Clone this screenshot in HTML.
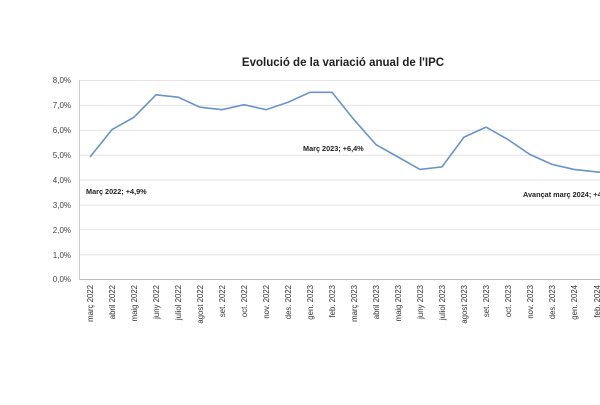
<!DOCTYPE html>
<html><head><meta charset="utf-8"><style>body{margin:0;background:#fff}</style></head><body>
<svg width="600" height="400" xmlns="http://www.w3.org/2000/svg" font-family="Liberation Sans, sans-serif">
<text x="343" y="66" text-anchor="middle" font-size="11.5" font-weight="bold" fill="#222">Evolució de la variació anual de l'IPC</text>
<g stroke="#e4e4e4" stroke-width="1">
<line x1="79" x2="600" y1="80.5" y2="80.5"/><line x1="79" x2="600" y1="105.4" y2="105.4"/><line x1="79" x2="600" y1="130.3" y2="130.3"/><line x1="79" x2="600" y1="155.2" y2="155.2"/><line x1="79" x2="600" y1="180.1" y2="180.1"/><line x1="79" x2="600" y1="205" y2="205"/><line x1="79" x2="600" y1="229.9" y2="229.9"/><line x1="79" x2="600" y1="254.8" y2="254.8"/>
</g>
<line x1="79" x2="600" y1="279.5" y2="279.5" stroke="#bbb"/>
<line x1="79.5" x2="79.5" y1="80" y2="280" stroke="#ccc"/>
<g font-size="8" fill="#444" text-anchor="end">
<text x="71" y="83">8,0%</text><text x="71" y="108">7,0%</text><text x="71" y="133">6,0%</text><text x="71" y="158">5,0%</text><text x="71" y="183">4,0%</text><text x="71" y="208">3,0%</text><text x="71" y="233">2,0%</text><text x="71" y="258">1,0%</text><text x="71" y="282">0,0%</text>
</g>
<polyline fill="none" stroke="#6a93c8" stroke-width="1.6" points="90,157 112,129.6 134,117.2 156,94.8 178,97.2 200,107.2 222,109.7 244,104.7 266,109.7 288,102.2 310,92.3 332,92.3 354,119.7 376,144.6 398,157 420,169.4 442,166.9 464,137.1 486,127.1 508,139.5 530,154.5 552,164.4 574,169.4 597,171.9 619,174.4"/>
<g font-size="7.3" font-weight="bold" fill="#222">
<text x="86" y="194">Març 2022; +4,9%</text>
<text x="303" y="151">Març 2023;  +6,4%</text>
<text x="523" y="197">Avançat març 2024; +4,2%</text>
</g>
<g font-size="7.8" fill="#333" text-anchor="end">
<text transform="translate(93,285) rotate(-90)">març 2022</text>
<text transform="translate(115,285) rotate(-90)">abril 2022</text>
<text transform="translate(137,285) rotate(-90)">maig 2022</text>
<text transform="translate(159,285) rotate(-90)">juny 2022</text>
<text transform="translate(181,285) rotate(-90)">juliol 2022</text>
<text transform="translate(203,285) rotate(-90)">agost 2022</text>
<text transform="translate(225,285) rotate(-90)">set. 2022</text>
<text transform="translate(247,285) rotate(-90)">oct. 2022</text>
<text transform="translate(269,285) rotate(-90)">nov. 2022</text>
<text transform="translate(291,285) rotate(-90)">des. 2022</text>
<text transform="translate(313,285) rotate(-90)">gen. 2023</text>
<text transform="translate(335,285) rotate(-90)">feb. 2023</text>
<text transform="translate(357,285) rotate(-90)">març 2023</text>
<text transform="translate(379,285) rotate(-90)">abril 2023</text>
<text transform="translate(401,285) rotate(-90)">maig 2023</text>
<text transform="translate(423,285) rotate(-90)">juny 2023</text>
<text transform="translate(445,285) rotate(-90)">juliol 2023</text>
<text transform="translate(467,285) rotate(-90)">agost 2023</text>
<text transform="translate(489,285) rotate(-90)">set. 2023</text>
<text transform="translate(511,285) rotate(-90)">oct. 2023</text>
<text transform="translate(533,285) rotate(-90)">nov. 2023</text>
<text transform="translate(555,285) rotate(-90)">des. 2023</text>
<text transform="translate(577,285) rotate(-90)">gen. 2024</text>
<text transform="translate(600,285) rotate(-90)">feb. 2024</text>
</g>
</svg>
</body></html>
